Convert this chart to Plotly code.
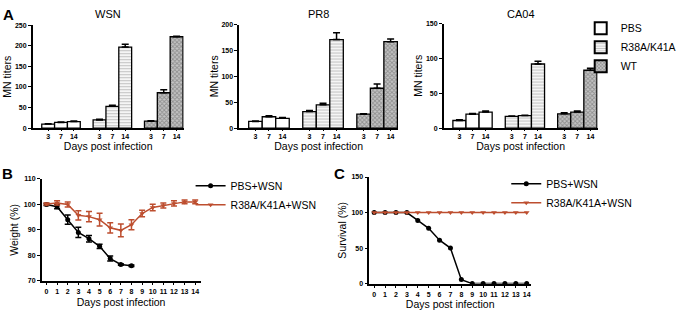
import plotly.graph_objects as go

W, H = 681, 313

# ---------------- Data ----------------
days_bar = ["3", "7", "14"]
groups = ["PBS", "R38A/K41A", "WT"]

wsn_vals = {"PBS": [10, 14, 16], "R38A/K41A": [20, 53, 197], "WT": [17, 86, 222]}
wsn_err = {"PBS": [1, 1, 1.5], "R38A/K41A": [1.5, 2.5, 7], "WT": [1, 7, 1]}
pr8_vals = {"PBS": [13, 22, 19], "R38A/K41A": [32, 45, 171], "WT": [27, 77, 167]}
pr8_err = {"PBS": [1, 2, 1.5], "R38A/K41A": [2, 3, 13], "WT": [1, 8, 5]}
ca04_vals = {"PBS": [11, 20, 23], "R38A/K41A": [17, 18, 92], "WT": [20.5, 23, 83]}
ca04_err = {"PBS": [1, 1, 1.5], "R38A/K41A": [0.5, 0.5, 4], "WT": [1.5, 1.5, 3]}

days_line = list(range(15))
pbs_weight = [100, 99.1, 94, 89, 86.5, 83.5, 78.7, 76.4, 75.9]
pbs_weight_err = [0.4, 0.8, 1.8, 2, 1.3, 0.8, 1, 0.3, 0.3]
mut_weight = [100.2, 100.6, 100, 95.7, 95.2, 94, 90.8, 89.8, 92, 96.4, 98.8, 99.6, 100.4, 101, 101]
mut_weight_err = [0.4, 0.8, 1, 1.8, 2, 2.5, 2, 2.5, 2, 1.3, 1.3, 1, 1, 0.7, 0.7]

pbs_surv = [100, 100, 100, 100, 88.9, 77.8, 61.1, 50, 5.6, 0, 0, 0, 0, 0, 0]
mut_surv = [100] * 15

RED = "#BD4E2F"
FONT = "Arial"

styles = {
    "PBS": dict(color="white", pattern=None),
    "R38A/K41A": dict(color="white", pattern=dict(shape="-", fgcolor="#858585", bgcolor="white", size=3, solidity=0.45)),
    "WT": dict(color="#b8b8b8", pattern=dict(shape="x", fgcolor="#5a5a5a", bgcolor="#c4c4c4", size=3, solidity=0.5)),
}

fig = go.Figure()

panels = [("", "WSN", wsn_vals, wsn_err), ("2", "PR8", pr8_vals, pr8_err), ("3", "CA04", ca04_vals, ca04_err)]
for ax, name, vals, errs in panels:
    for g, grp in enumerate(groups):
        xs = [g * 4 + i for i in range(len(days_bar))]
        st = styles[grp]
        marker = dict(color=st["color"], line=dict(color="black", width=1.3))
        if st["pattern"]:
            marker["pattern"] = st["pattern"]
        fig.add_trace(go.Bar(
            x=xs, y=vals[grp], width=1, name=grp, marker=marker,
            error_y=dict(type="data", array=errs[grp], arrayminus=[0] * 3, symmetric=False,
                         color="black", thickness=1.5, width=3.5),
            xaxis="x" + ax, yaxis="y" + ax,
            showlegend=(ax == ""), legend="legend",
        ))

# Panel B
fig.add_trace(go.Scatter(
    x=days_line[:len(pbs_weight)], y=pbs_weight, name="PBS+WSN", mode="lines+markers",
    line=dict(color="black", width=1.5), marker=dict(symbol="circle", size=5, color="black"),
    error_y=dict(type="data", array=pbs_weight_err, color="black", thickness=1.5, width=3),
    xaxis="x4", yaxis="y4", legend="legend2", cliponaxis=False))
fig.add_trace(go.Scatter(
    x=days_line, y=mut_weight, name="R38A/K41A+WSN", mode="lines+markers",
    line=dict(color=RED, width=1.5), marker=dict(symbol="triangle-down", size=5, color=RED),
    error_y=dict(type="data", array=mut_weight_err, color=RED, thickness=1.5, width=3),
    xaxis="x4", yaxis="y4", legend="legend2", cliponaxis=False))

# Panel C
fig.add_trace(go.Scatter(
    x=days_line, y=pbs_surv, name="PBS+WSN", mode="lines+markers",
    line=dict(color="black", width=1.5), marker=dict(symbol="circle", size=5, color="black"),
    xaxis="x5", yaxis="y5", legend="legend3", cliponaxis=False))
fig.add_trace(go.Scatter(
    x=days_line, y=mut_surv, name="R38A/K41A+WSN", mode="lines+markers",
    line=dict(color=RED, width=1.5), marker=dict(symbol="triangle-down", size=5, color=RED),
    xaxis="x5", yaxis="y5", legend="legend3", cliponaxis=False))


def dx(a, b):
    return [a / W, b / W]


def dy(top, bottom):
    return [1 - bottom / H, 1 - top / H]


tickfont = dict(family=FONT, size=7, color="black", weight="bold")
titlefont = dict(family=FONT, size=10.5, color="black")

common_ax = dict(showline=True, linecolor="black", linewidth=1.5, ticks="outside", tickcolor="black",
                 ticklen=3, tickwidth=1.2, showgrid=False, zeroline=False, tickfont=tickfont)

tickvals_bar = [g * 4 + i for g in range(3) for i in range(3)]
ticktext_bar = days_bar * 3

layout = dict(
    width=W, height=H, margin=dict(l=0, r=0, t=0, b=0),
    paper_bgcolor="white", plot_bgcolor="white", barmode="overlay",
    font=dict(family=FONT, color="black"),
)

bar_geo = {"": ((33, 185), (21.7, 127), 250), "2": ((241, 401), (21, 127), 200), "3": ((447, 602), (20, 127), 150)}
for ax, ((x0, x1), (y0, y1), top) in bar_geo.items():
    layout["xaxis" + ax] = dict(common_ax, domain=dx(x0, x1), range=[-1.2, 10.55], anchor="y" + ax,
                                tickvals=tickvals_bar, ticktext=ticktext_bar, ticklen=1,
                                title=dict(text="Days post infection", font=titlefont, standoff=0))
    layout["yaxis" + ax] = dict(common_ax, domain=dy(y0, y1), range=[0, top], anchor="x" + ax,
                                dtick=50, title=dict(text="MN titers", font=titlefont, standoff=1))

layout["xaxis4"] = dict(common_ax, domain=dx(42, 202), range=[-0.45, 14.5], anchor="y4", dtick=1,
                        title=dict(text="Days post infection", font=titlefont, standoff=5))
layout["yaxis4"] = dict(common_ax, domain=dy(179, 283), range=[70, 110], anchor="x4", dtick=10,
                        title=dict(text="Weight (%)", font=titlefont, standoff=3))
layout["xaxis5"] = dict(common_ax, domain=dx(372, 535), range=[-0.45, 14.4], anchor="y5", dtick=1,
                        title=dict(text="Days post infection", font=titlefont, standoff=3))
layout["yaxis5"] = dict(common_ax, domain=dy(177, 286), range=[0, 150], anchor="x5", dtick=50,
                        title=dict(text="Survival (%)", font=titlefont, standoff=3))

legfont = dict(family=FONT, size=10.5, color="black")
layout["legend"] = dict(x=585 / W, y=1 - 10 / H, xanchor="left", yanchor="top", font=legfont,
                        bgcolor="rgba(0,0,0,0)", tracegroupgap=0, itemsizing="constant")
layout["legend2"] = dict(x=192 / W, y=1 - 171 / H, xanchor="left", yanchor="top", font=legfont,
                         bgcolor="rgba(0,0,0,0)")
layout["legend3"] = dict(x=510 / W, y=1 - 169 / H, xanchor="left", yanchor="top", font=legfont,
                         bgcolor="rgba(0,0,0,0)")

annots = []
for ax, name in [("", "WSN"), ("2", "PR8"), ("3", "CA04")]:
    (x0, x1), _, _ = bar_geo[ax]
    annots.append(dict(text=name, x=(x0 + x1) / 2 / W, y=1 - 10 / H, xref="paper", yref="paper",
                       xanchor="center", yanchor="middle",
                       showarrow=False, font=dict(family=FONT, size=11, color="black")))
for lab, px, py in [("A", 9, 11), ("B", 8, 173), ("C", 342, 173)]:
    annots.append(dict(text="<b>%s</b>" % lab, x=px / W, y=1 - py / H, xref="paper", yref="paper",
                       xanchor="center", yanchor="middle",
                       showarrow=False, font=dict(family=FONT, size=15, color="black")))
layout["annotations"] = annots

fig.update_layout(**layout)
fig.write_html("out.html", config={"displayModeBar": False},
               post_script="document.body.style.margin='0';document.body.style.padding='0';")
